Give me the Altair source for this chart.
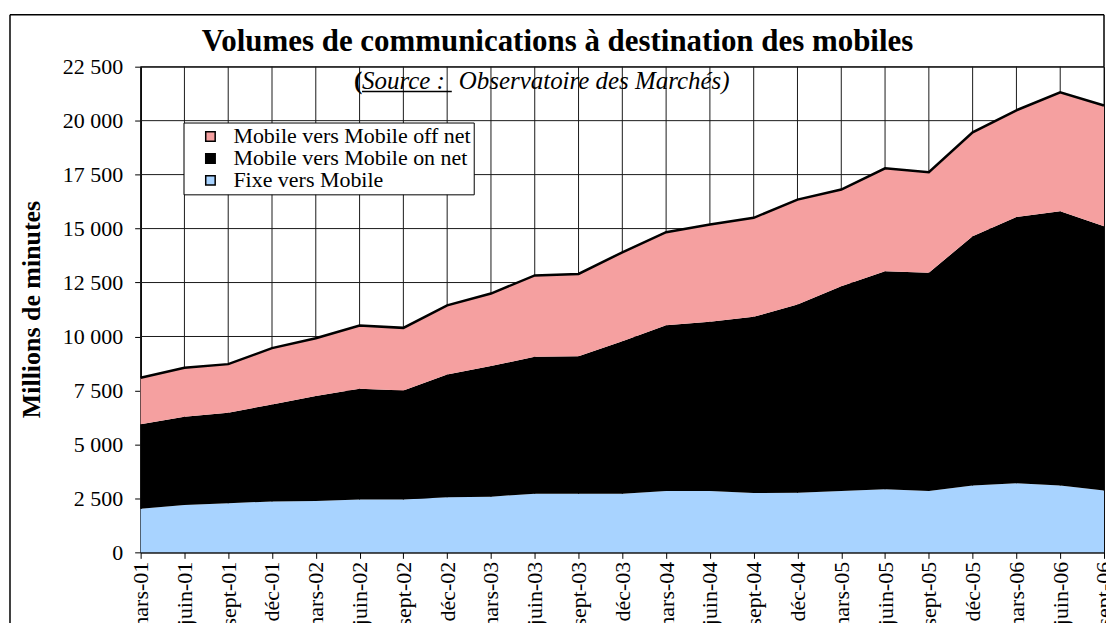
import json
import altair as alt
import pandas as pd

# ---------------- data ----------------
quarters = ["mars-01", "juin-01", "sept-01", "déc-01",
            "mars-02", "juin-02", "sept-02", "déc-02",
            "mars-03", "juin-03", "sept-03", "déc-03",
            "mars-04", "juin-04", "sept-04", "déc-04",
            "mars-05", "juin-05", "sept-05", "déc-05",
            "mars-06", "juin-06", "sept-06"]

fixe_vers_mobile = [2020, 2190, 2270, 2360, 2380, 2450, 2450, 2550,
                    2580, 2720, 2720, 2720, 2840, 2840, 2750, 2760,
                    2840, 2920, 2840, 3100, 3200, 3100, 2870]

mobile_on_net = [3910, 4090, 4200, 4490, 4860, 5130, 5050, 5690,
                 6050, 6340, 6370, 7060, 7680, 7840, 8160, 8720,
                 9490, 10100, 10110, 11550, 12340, 12700, 12240]

mobile_off_net = [2160, 2270, 2250, 2610, 2680, 2930, 2900, 3200,
                  3360, 3770, 3810, 4120, 4310, 4510, 4590, 4860,
                  4480, 4770, 4660, 4810, 4940, 5510, 5590]

series_names = ["Mobile vers Mobile off net",
                "Mobile vers Mobile on net",
                "Fixe vers Mobile"]
series_colors = ["#F5A0A0", "#000000", "#A8D3FF"]
y_ticks = [0, 2500, 5000, 7500, 10000, 12500, 15000, 17500, 20000, 22500]

title_text = "Volumes de communications à destination des mobiles"
y_title = "Millions de minutes"

FONT = "Liberation Serif"

rows = []
for i, q in enumerate(quarters):
    rows.append({"idx": i, "quarter": q, "serie": series_names[2], "value": fixe_vers_mobile[i], "ord": 1})
    rows.append({"idx": i, "quarter": q, "serie": series_names[1], "value": mobile_on_net[i], "ord": 2})
    rows.append({"idx": i, "quarter": q, "serie": series_names[0], "value": mobile_off_net[i], "ord": 3})
df = pd.DataFrame(rows)
x_positions = list(range(len(quarters)))

# ---------------- encodings ----------------
x_axis = alt.Axis(values=x_positions,
                  labelExpr=json.dumps(quarters, ensure_ascii=False) + "[datum.value]",
                  labelAngle=270, labelAlign="right", labelBaseline="middle",
                  labelFont=FONT, labelFontSize=22, labelColor="black",
                  labelPadding=3, labelOverlap=False, labelFlush=False, tickSize=6,
                  tickColor="black", domainColor="black", domainWidth=1.5, grid=False)
x_scale = alt.Scale(domain=[0, len(quarters) - 1], nice=False, zero=False)

y_axis = alt.Axis(
    values=y_ticks, labelFont=FONT, labelFontSize=22, labelColor="black",
    labelExpr="replace(format(datum.value, ','), ',', ' ')",
    labelPadding=12, tickSize=6, tickColor="black", domainColor="black", domainWidth=1.5,
    grid=False,
    titleFont=FONT, titleFontSize=26, titleFontWeight="bold", titleColor="black",
    titleAngle=270, titleX=-109, titleY=243, titleAlign="center", titleBaseline="middle",
)
y_scale = alt.Scale(domain=[0, 22500], nice=False)


def x_enc():
    return alt.X("idx:Q", scale=x_scale, axis=x_axis, title=None)


# grid lines drawn through the scales
hgrid = alt.Chart(pd.DataFrame({"tick": y_ticks})).mark_rule(
    color="#1a1a1a", strokeWidth=1
).encode(y=alt.Y("tick:Q", scale=y_scale, axis=y_axis, title=y_title))

vgrid = alt.Chart(pd.DataFrame({"idx": x_positions})).mark_rule(
    color="#1a1a1a", strokeWidth=1
).encode(x=x_enc())

areas = alt.Chart(df).mark_area(opacity=1, strokeWidth=0).encode(
    x=x_enc(),
    y=alt.Y("value:Q", stack="zero", scale=y_scale, axis=y_axis, title=y_title),
    color=alt.Color(
        "serie:N",
        scale=alt.Scale(domain=series_names, range=series_colors),
        legend=alt.Legend(
            orient="none", legendX=43, legendY=56, title=None,
            fillColor="white", strokeColor="black", padding=3, cornerRadius=0,
            labelFont=FONT, labelFontSize=22, labelColor="black", labelLimit=600,
            symbolType="square", symbolSize=90, symbolStrokeColor="black",
            symbolStrokeWidth=1.5, symbolOffset=13, labelOffset=12, rowPadding=0,
        ),
    ),
    order=alt.Order("ord:Q", sort="ascending"),
)

top_line = alt.Chart(df).transform_aggregate(
    total="sum(value)", groupby=["idx"]
).mark_line(color="black", strokeWidth=2.5).encode(
    x=x_enc(),
    y=alt.Y("total:Q", scale=y_scale, axis=y_axis, title=y_title),
)

one = pd.DataFrame({"k": [1]})

# outer chart-area border (three visible sides)
frame_top = alt.Chart(one).mark_rule(color="black", strokeWidth=1.5).encode(
    x=alt.value(-131), x2=alt.value(966), y=alt.value(-52)
)
frame_left = alt.Chart(one).mark_rule(color="black", strokeWidth=1.5).encode(
    x=alt.value(-131), y=alt.value(-52), y2=alt.value(620)
)
frame_right = alt.Chart(one).mark_rule(color="black", strokeWidth=1.5).encode(
    x=alt.value(966), y=alt.value(-52), y2=alt.value(0)
)

title = alt.Chart(one).mark_text(
    text=title_text, font=FONT, fontSize=31, fontWeight="bold", color="black",
    align="center", baseline="alphabetic"
).encode(x=alt.value(418), y=alt.value(-16))

paren = alt.Chart(one).mark_text(
    text="(", font=FONT, fontSize=25, fontWeight="bold", color="black",
    align="left", baseline="alphabetic"
).encode(x=alt.value(214), y=alt.value(22))

source = alt.Chart(one).mark_text(
    text="Source :", font=FONT, fontSize=25, fontStyle="italic", color="black",
    align="left", baseline="alphabetic"
).encode(x=alt.value(222), y=alt.value(22))

underline = alt.Chart(one).mark_rule(color="black", strokeWidth=1.5).encode(
    x=alt.value(222), x2=alt.value(312), y=alt.value(25)
)

observ = alt.Chart(one).mark_text(
    text="Observatoire des Marchés)", font=FONT, fontSize=25, fontStyle="italic",
    color="black", align="left", baseline="alphabetic"
).encode(x=alt.value(319), y=alt.value(22))

chart = alt.layer(
    hgrid, vgrid, areas, top_line, frame_top, frame_left, frame_right,
    title, paren, source, underline, observ
).properties(
    width=966, height=487,
    autosize=alt.AutoSizeParams(type="none"),
    padding={"left": 133, "top": 58, "right": 2, "bottom": 70},
    background="white",
).configure_view(stroke="black", strokeWidth=1)

chart.save("out.html", embed_options={"renderer": "svg", "actions": False})
